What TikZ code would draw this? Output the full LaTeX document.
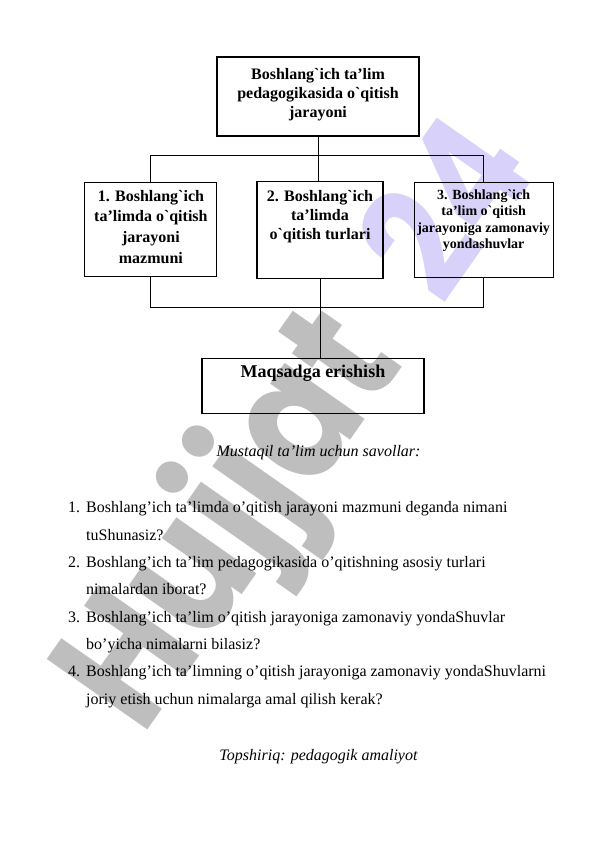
\documentclass[tikz,border=0pt]{standalone}
\usepackage{fontspec}
\setmainfont{Liberation Serif}[Ligatures=TeXOff]
\newfontfamily\wmfont{Poppins}[Ligatures=TeXOff, FakeStretch=0.85]
\usepackage{xcolor}
\definecolor{wmgray}{RGB}{190,190,190}
\definecolor{wmlilac}{RGB}{216,209,250}
\usetikzlibrary{positioning}
\newcommand{\pad}[1]{\rule[-#1]{0pt}{#1}}

\begin{document}
\begin{tikzpicture}[x=1pt, y=1pt,
    box/.style={rectangle, draw=black, line width=1.1pt, align=center, inner sep=2pt,
        font=\bfseries\fontsize{16}{20}\selectfont},
    link/.style={line width=1pt},
    note/.style={anchor=base, font=\itshape\fontsize{16}{19}\selectfont},
    node distance=44pt
]
\useasboundingbox (0,0) rectangle (596,842);
\node[anchor=base west, rotate=55, inner sep=0,
    font=\wmfont\bfseries\fontsize{175}{175}\selectfont] (W) at (142,104)
    {\textcolor{wmgray}{Hujjat}\hspace{68pt}\textcolor{wmlilac}{\fontsize{158}{158}\selectfont 24}};

\node[box, minimum width=202pt, minimum height=79pt,
    font=\bfseries\fontsize{16}{19}\selectfont] (A) at (318,745.5)
    {Boshlang`ich ta’lim\\ pedagogikasida o`qitish\\ jarayoni\pad{8pt}};
\node[box, minimum width=126pt, minimum height=97pt, below=of A, xshift=2pt,
    font=\bfseries\fontsize{16}{19}\selectfont] (C)
    {2. Boshlang`ich\\ ta’limda\\ o`qitish turlari\pad{30pt}};
\node[box, minimum width=132pt, minimum height=94pt, left=39pt of C,
    font=\bfseries\fontsize{16}{20.7}\selectfont] (B)
    {1. Boshlang`ich\\ ta’limda o`qitish\\ jarayoni\\ mazmuni\pad{6pt}};
\node[box, minimum width=139pt, minimum height=95pt, right=30pt of C,
    font=\bfseries\fontsize{14}{16.3}\selectfont] (D)
    {3. Boshlang`ich\\ ta’lim o`qitish\\ jarayoniga zamonaviy\\ yondashuvlar\pad{21pt}};
\node[box, minimum width=222pt, minimum height=55pt, below=79pt of C, xshift=-7pt,
    font=\bfseries\fontsize{18}{20}\selectfont] (E)
    {Maqsadga erishish\pad{29pt}};

\coordinate[below=19pt of A] (t);
\coordinate[below=30pt of B] (b);
\draw[link] (A.south) -- (A.south |- C.north);
\draw[link] (B.north) |- (t) -| (D.north);
\draw[link] (B.south) -- (b) -| (D.south);
\draw[link] (C.south) -- (C.south |- E.north);

\node[note] (H) at (318.5,385) {Mustaqil ta’lim uchun savollar:};
\node[anchor=base west, inner sep=0, font=\fontsize{16}{27.3}\selectfont] (Q) at (68,329)
    {\begin{tabular}[t]{@{}r@{\hspace{6pt}}l@{}}
    1. & Boshlang’ich ta’limda o’qitish jarayoni mazmuni deganda nimani\\
       & tuShunasiz?\\
    2. & Boshlang’ich ta’lim pedagogikasida o’qitishning asosiy turlari\\
       & nimalardan iborat?\\
    3. & Boshlang’ich ta’lim o’qitish jarayoniga zamonaviy yondaShuvlar\\
       & bo’yicha nimalarni bilasiz?\\
    4. & Boshlang’ich ta’limning o’qitish jarayoniga zamonaviy yondaShuvlarni\\
       & joriy etish uchun nimalarga amal qilish kerak?
    \end{tabular}};
\node[note] (P) at (318.5,81) {Topshiriq: pedagogik amaliyot};
\end{tikzpicture}
\end{document}
